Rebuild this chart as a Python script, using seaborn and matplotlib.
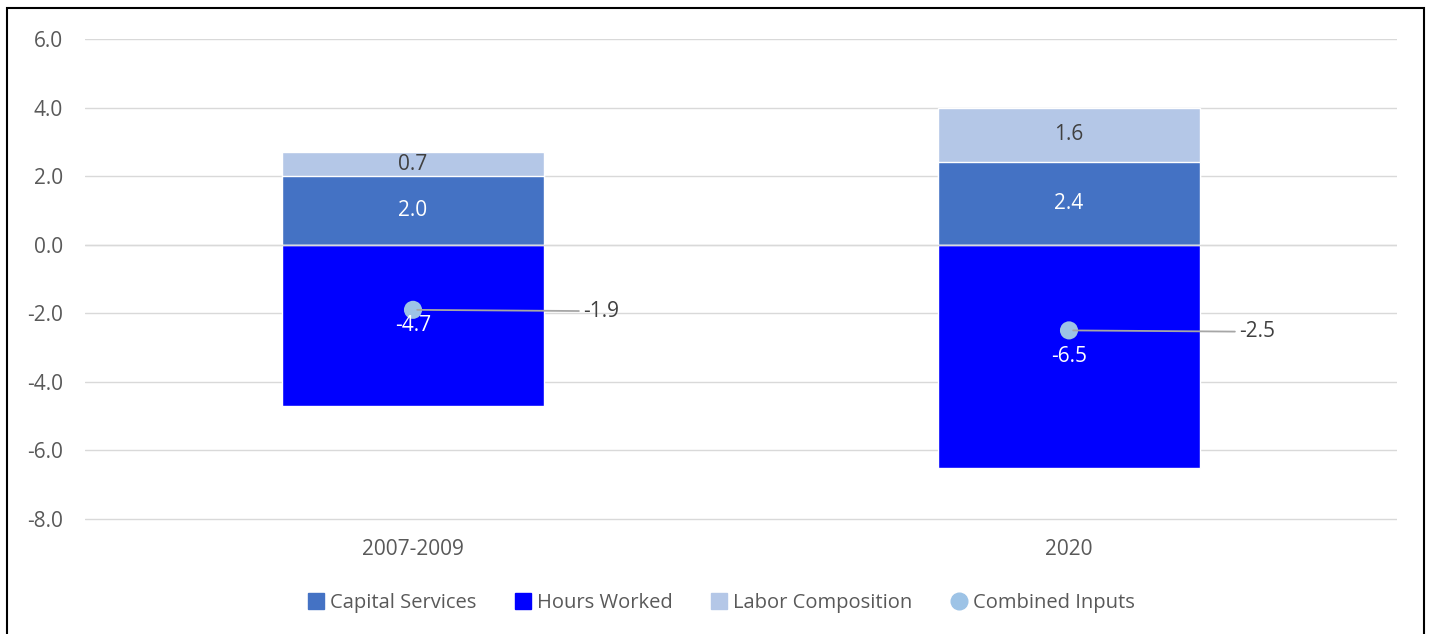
#!/usr/bin/env python3
"""Contributions of inputs to output change: 2007-2009 vs 2020."""

import matplotlib.pyplot as plt
import pandas as pd
import seaborn as sns
from matplotlib.lines import Line2D
from matplotlib.patches import Patch, Rectangle

PERIODS = ["2007-2009", "2020"]
CAPITAL = [2.0, 2.4]
HOURS = [-4.7, -6.5]
LABOR = [0.7, 1.6]
COMBINED = [-1.9, -2.5]
YTICKS = [-8.0, -6.0, -4.0, -2.0, 0.0, 2.0, 4.0, 6.0]

C_CAP = "#4472C4"
C_HOURS = "#0000FF"
C_LABOR = "#B4C7E7"
C_COMB = "#9DC3E6"
TXT = "#404040"
TICK = "#595959"
FS = 15


def main() -> None:
    sns.set_theme(style="white")
    plt.rcParams["font.family"] = ["Open Sans", "DejaVu Sans"]

    df = pd.DataFrame({"period": PERIODS, "capital": CAPITAL, "hours": HOURS,
                       "labor": LABOR, "combined": COMBINED})
    df["labor_top"] = df["capital"] + df["labor"]

    fig = plt.figure(figsize=(14.29, 6.34), dpi=100)
    ax = fig.add_axes([85 / 1429, 1 - 521 / 634, 1312 / 1429, 482 / 634])

    # stacked bars: draw cumulative tops first, then cover
    sns.barplot(data=df, x="period", y="labor_top", color=C_LABOR, width=0.4,
                saturation=1, ax=ax, zorder=2)
    sns.barplot(data=df, x="period", y="capital", color=C_CAP, width=0.4,
                saturation=1, ax=ax, zorder=2)
    sns.barplot(data=df, x="period", y="hours", color=C_HOURS, width=0.4,
                saturation=1, ax=ax, zorder=2)
    ax.axhline(0, color="#D9D9D9", lw=1.0, zorder=3)

    sns.scatterplot(data=df, x="period", y="combined", color=C_COMB, s=170,
                    edgecolor="none", ax=ax, zorder=5, legend=False)

    for i, row in df.iterrows():
        ax.text(i, row["capital"] + row["labor"] / 2, f"{row['labor']:.1f}",
                ha="center", va="center", color=TXT, fontsize=FS, zorder=6)
        ax.text(i, row["capital"] / 2, f"{row['capital']:.1f}",
                ha="center", va="center", color="white", fontsize=FS, zorder=6)
        ax.text(i, row["hours"] / 2, f"{row['hours']:.1f}",
                ha="center", va="center", color="white", fontsize=FS, zorder=6)
        ax.annotate(f"{row['combined']:.1f}", xy=(i, row["combined"]),
                    xytext=(i + 0.26, row["combined"] - 0.04),
                    ha="left", va="center", color=TXT, fontsize=FS, zorder=6,
                    arrowprops=dict(arrowstyle="-", color="#A6A6A6", lw=1.3,
                                    shrinkA=1, shrinkB=3))

    ax.set_xlim(-0.5, 1.5)
    ax.set_ylim(-8.06, 6.0)
    ax.set_yticks(YTICKS)
    ax.set_yticklabels([f"{v:.1f}" for v in YTICKS])
    ax.yaxis.grid(True, color="#D9D9D9", lw=1.0)
    ax.set_axisbelow(True)
    ax.set_xlabel("")
    ax.set_ylabel("")
    ax.tick_params(axis="y", length=0, pad=16, labelsize=FS, labelcolor=TICK)
    ax.tick_params(axis="x", length=0, pad=13, labelsize=FS, labelcolor=TICK)
    sns.despine(ax=ax, left=True, bottom=True)

    handles = [
        Patch(color=C_CAP, label="Capital Services"),
        Patch(color=C_HOURS, label="Hours Worked"),
        Patch(color=C_LABOR, label="Labor Composition"),
        Line2D([], [], marker="o", ls="", color=C_COMB, markersize=12,
               label="Combined Inputs"),
    ]
    fig.legend(handles=handles, loc="center", bbox_to_anchor=(0.505, 0.049),
               ncol=4, frameon=False, fontsize=14.5, labelcolor=TICK,
               handlelength=0.8, handleheight=0.8, handletextpad=0.3,
               columnspacing=1.9)

    # outer frame of the exported chart
    fig.patches.append(Rectangle((7 / 1429, -0.01), 1417 / 1429, 1 - 8 / 634 + 0.01,
                                 transform=fig.transFigure, fill=False,
                                 edgecolor="black", lw=1.5))

    fig.savefig("out.png", dpi=100)
    plt.close(fig)


if __name__ == "__main__":
    main()
